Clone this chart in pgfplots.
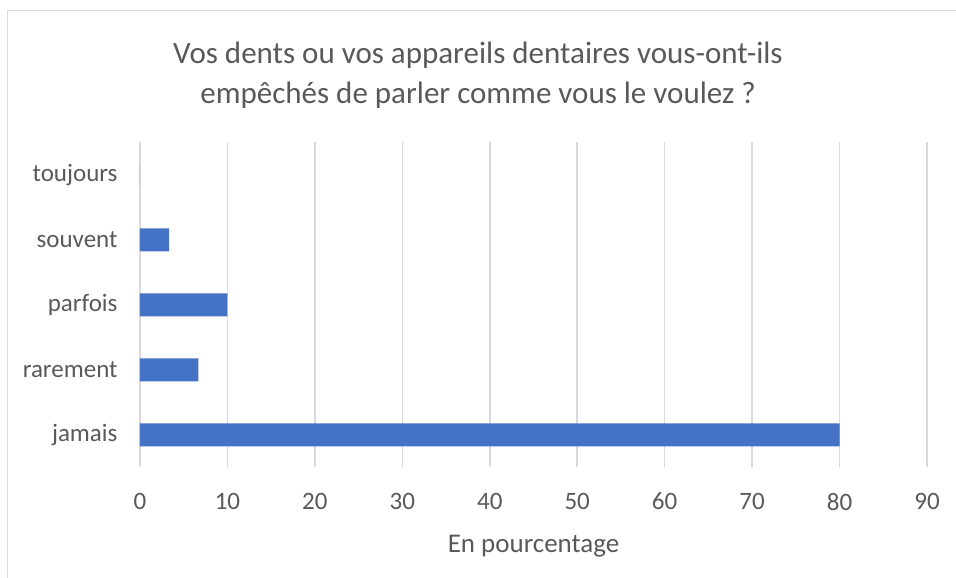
\documentclass[border=0pt]{standalone}
\usepackage{pgfplots}
\pgfplotsset{compat=1.18}
\usepackage{fontspec}
\setmainfont{Carlito}
\definecolor{txt}{HTML}{595959}
\definecolor{grid}{HTML}{D9D9D9}
\definecolor{bar}{HTML}{4472C4}
\begin{document}
\begin{tikzpicture}[x=1pt,y=1pt]
\path[use as bounding box] (0,0) rectangle (956,578);
\draw[color=grid,line width=1.5pt] (7.5,0) -- (7.5,567.5) -- (956,567.5);
\node[align=center,text=txt,font=\fontsize{31}{40}\selectfont] at (478,503) {Vos dents ou vos appareils dentaires vous-ont-ils\\empêchés de parler comme vous le voulez ?};
\begin{axis}[
  at={(140pt,110.5pt)}, anchor=south west,
  scale only axis, width=787pt, height=325pt,
  xbar, bar width=23pt,
  xmin=0, xmax=90, ymin=-0.5, ymax=4.5,
  xtick={0,10,...,90},
  ytick={0,1,2,3,4},
  yticklabels={jamais,rarement,parfois,souvent,toujours},
  axis line style={draw=none},
  major tick length=0pt,
  xmajorgrids, major grid style={color=grid,line width=1.5pt},
  tick label style={text=txt,font=\fontsize{25}{30}\selectfont},
  /pgf/number format/assume math mode=true,
  xticklabel style={yshift=-22pt},
  yticklabel style={xshift=-19pt},
  xlabel={En pourcentage},
  xlabel style={text=txt,font=\fontsize{27}{30}\selectfont, yshift=-18pt},
]
\addplot[fill=bar,draw=none] coordinates {(80,0) (6.67,1) (10,2) (3.33,3) (0,4)};
\end{axis}
\end{tikzpicture}
\end{document}
